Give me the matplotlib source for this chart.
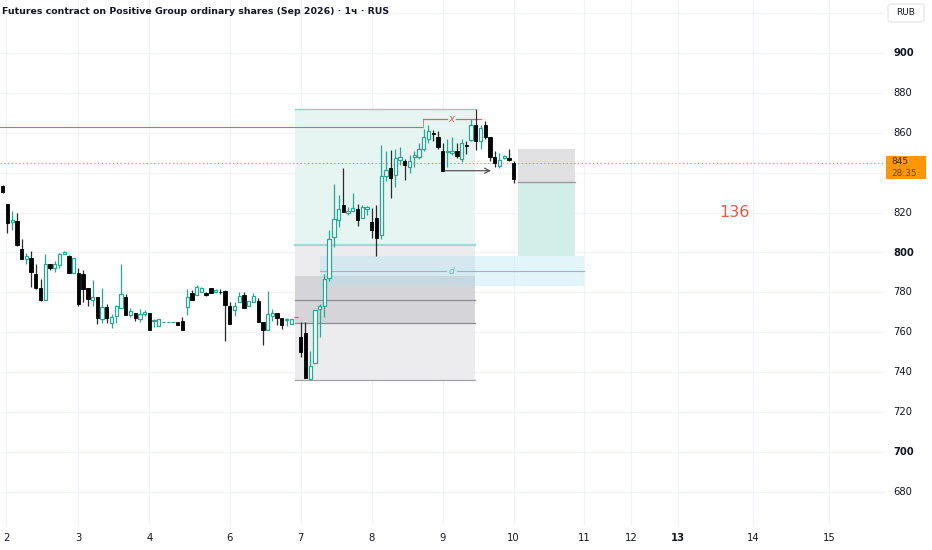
import matplotlib
matplotlib.use("Agg")
import matplotlib.pyplot as plt
from matplotlib.patches import Rectangle, FancyBboxPatch
import numpy as np

# ---------------- data ----------------
opens = [833.5, 824.5, 815.2, 816, 802, 796.5, 797, 789, 782, 776,
         794, 792, 793.5, 799, 798, 789.5, 789.8, 789, 782, 776,
         777.8, 766.5, 772.8, 764.7, 768, 772.3, 777.8, 768.5, 769.5, 766.5,
         769, 769.5, 765.5, 763.2, 765, 765, 765, 765, 765.7, 772.8,
         779.5, 778.7, 780, 779.5, 782, 780, 780.3, 780.7, 773.3, 771.2,
         775.3, 778.5, 773, 775.3, 775.7, 765.2, 761.2, 768, 769.5, 767.3,
         766, 764.3, 767.5, 757.5, 759.5, 736.8, 744.5, 771.5, 773.2, 787.2,
         807.8, 816.2, 824, 820, 821, 822, 817.3, 822, 815.3, 817.3,
         809, 838.2, 842.3, 839, 846.5, 846, 843, 848, 848, 852,
         857, 860, 858, 851, 850.5, 850, 851, 847, 853.8, 856.5,
         864, 856, 864, 858, 848, 843.2, 847.3, 847.3, 845]
closes = [830.5, 815, 816.5, 804, 796.8, 798, 790, 782, 776, 794,
          792, 794, 799, 800, 789.5, 797, 774, 781.5, 776.5, 777.5,
          767.3, 772.8, 767, 767.8, 773, 779, 768.7, 770.7, 767.3, 769.3,
          770, 761.2, 766.3, 766.5, 765, 765, 765, 763.5, 761.2, 777.8,
          776.2, 782.8, 782, 778.5, 779.5, 781, 780, 773.5, 764, 773.2,
          778.3, 772, 775.7, 778.3, 765.2, 761.2, 769, 769.5, 767.3, 763.7,
          766.8, 766.5, 767.8, 750.2, 737.3, 743.2, 771.2, 773, 786.8, 806.8,
          816.8, 821.8, 820.2, 820.7, 822.3, 816.2, 822.8, 822.8, 811.5, 807.3,
          838.3, 841.5, 837.3, 847.3, 848, 844, 845.7, 849, 852, 858,
          861, 859.5, 853, 841, 851, 851, 848.5, 855, 853.2, 864,
          856, 862.3, 858, 848, 845, 846.2, 848.5, 846.5, 837]
highs = [834, 824.5, 821, 820, 806.8, 799.5, 801, 794, 786.5, 799,
         794, 795.5, 799.5, 801, 798.5, 797, 792, 791, 782, 786,
         777.8, 782, 774, 769, 773.5, 794, 779, 772, 769.5, 771.5,
         771, 769.5, 766.8, 766.5, 765, 765, 765, 765, 767.8, 781.5,
         781, 783.5, 782.8, 780, 782, 781.5, 781.5, 781, 775, 775,
         780, 780, 775.7, 779.8, 777, 765.2, 780.7, 771.5, 769.5, 767.3,
         767, 766.5, 767.8, 765.2, 765, 750.7, 771.2, 774, 789, 811.5,
         834.5, 829, 842.3, 823, 829.7, 824.5, 824, 823.3, 822.3, 824,
         854, 851, 851.5, 852, 853, 847, 849, 851, 855, 862,
         864, 861.5, 860.7, 855, 857, 858, 855, 857, 856, 867,
         872, 864, 866, 858, 851, 850, 849, 852, 846]
lows = [830, 810, 811.5, 803.5, 796.5, 794, 782.5, 781.5, 775.5, 776,
        791, 790, 792, 799, 789.5, 789.5, 773, 775, 773, 773,
        764, 764.5, 764.5, 762, 764.5, 772.3, 768.7, 767.5, 765.7, 765,
        768, 761.2, 762.5, 763.2, 765, 765, 765, 763.5, 761.2, 768.5,
        776.2, 778.7, 780, 778, 779.5, 780, 779, 755.7, 764, 768,
        775.3, 772, 773, 775.3, 765.2, 753.5, 761.2, 765.5, 763.5, 761.5,
        763, 764.3, 767.5, 747.8, 737.3, 736.2, 744.5, 757.5, 767.5, 785.7,
        803, 812.8, 820.2, 819, 821, 813.3, 817.3, 819, 807.3, 798.2,
        807, 836, 827.3, 833, 844, 836.5, 840, 843, 847, 851,
        855, 856, 852, 841, 843, 849, 847.5, 845.5, 849.5, 856,
        851.5, 852, 857, 846, 843, 842.5, 847, 846, 835]

day_labels = ["2", "3", "4", "6", "7", "8", "9", "10", "11", "12", "13", "14", "15"]
day_pos = [0.8, 16, 31, 48, 63, 78, 93, 108, 122.9, 132.8, 142.8, 158.6, 174.7]
grid_prices = [680, 700, 720, 740, 760, 780, 800, 820, 840, 860, 880, 900, 920]
label_prices = [680, 700, 720, 740, 760, 780, 800, 820, 860, 880, 900]
last_price = 845
countdown = "28:35"
target_text = "136"

# ---------------- figure ----------------
W, H = 932, 550
fig = plt.figure(figsize=(W / 100, H / 100), dpi=100)
fig.patch.set_facecolor("white")
AX_W, AX_H = 885, 525
ax = fig.add_axes([0, 1 - AX_H / H, AX_W / W, AX_H / H])
ax.set_facecolor("white")

k = 4.731
x0px = 2.7
xmin = -x0px / k
xmax = (AX_W - x0px) / k
ppu = 1.995
ytop = 900 + 53 / ppu
ybot = 900 - (AX_H - 53) / ppu
ax.set_xlim(xmin, xmax)
ax.set_ylim(ybot, ytop)
for s in ax.spines.values():
    s.set_visible(False)
ax.set_xticks([])
ax.set_yticks([])

grid_c = "#f0f3fa"
for p in grid_prices:
    ax.axhline(p, color=grid_c, lw=0.9, zorder=0)
for d in day_pos:
    ax.axvline(d, color=grid_c, lw=0.9, zorder=0)

# ---------------- drawings ----------------
bx0, bx1 = 61.8, 99.8
# teal (profit) box
ax.add_patch(Rectangle((bx0, 803.8), bx1 - bx0, 872 - 803.8, facecolor="#e6f5f2", edgecolor="none", zorder=1))
ax.plot([bx0, bx1], [872, 872], color="#8fd3c7", lw=1.0, zorder=2)
ax.plot([bx0, bx1], [803.8, 803.8], color="#9edbd2", lw=1.6, zorder=2)
# gray zone
ax.add_patch(Rectangle((bx0, 736), bx1 - bx0, 803.8 - 736, facecolor="#ececee", edgecolor="none", zorder=1))
ax.add_patch(Rectangle((bx0, 764.5), bx1 - bx0, 788 - 764.5, facecolor="#d5d5d9", edgecolor="none", zorder=1))
ax.plot([bx0, bx1], [776, 776], color="#8c8c92", lw=0.9, zorder=2)
ax.plot([bx0, bx1], [764.5, 764.5], color="#8c8c92", lw=0.9, zorder=2)
ax.plot([bx0, bx1], [736, 736], color="#a3a3a8", lw=0.9, zorder=2)

# cyan band
cx0, cx1 = 67.1, 122.9
ax.add_patch(Rectangle((cx0, 783), cx1 - cx0, 798 - 783, facecolor="#a9e2f3", alpha=0.33, edgecolor="none", zorder=2))
ax.plot([cx0, 93.8], [790.5, 790.5], color="#74c9c4", lw=0.8, zorder=3)
ax.plot([96.0, cx1], [790.5, 790.5], color="#74c9c4", lw=0.8, zorder=3)
ax.text(94.9, 790.5, "d", color="#5bbdb5", fontsize=6.5, style="italic", ha="center", va="center", zorder=3)

# right boxes
rx0, rx1 = 108.9, 121.0
ax.add_patch(Rectangle((rx0, 835.2), rx1 - rx0, 851.7 - 835.2, facecolor="#e1e1e4", edgecolor="none", zorder=1))
ax.add_patch(Rectangle((rx0, 798), rx1 - rx0, 835.2 - 798, facecolor="#d3eee9", edgecolor="none", zorder=1))
ax.plot([rx0, rx1], [835.2, 835.2], color="#9a9aa0", lw=1.0, zorder=2)

# red level line
red = "#ef5a5f"
ax.plot([xmin, 88.8], [863, 863], color=red, lw=0.8, zorder=2)
ax.plot([88.8, 88.8], [863, 867], color="#a0a0a0", lw=0.8, zorder=2)
ax.plot([88.8, 93.9], [867, 867], color=red, lw=0.9, zorder=2)
ax.plot([95.9, 101], [867, 867], color=red, lw=0.9, zorder=2)
ax.text(94.9, 867, "x", color=red, fontsize=7.5, style="italic", ha="center", va="center", zorder=3)

# current price dotted line
ax.axhline(last_price, color="#ff9800", lw=0.9, ls=(0, (1, 2)), zorder=2)

# ---------------- candles ----------------
teal = "#22ab94"
xs = np.arange(len(opens))
bw = 0.7
for i in xs:
    o, c, h, l = opens[i], closes[i], highs[i], lows[i]
    up = c >= o
    wcol = teal if up else "#2a2a2a"
    ax.vlines(i, l, h, color=wcol, lw=0.9, zorder=4)
    lo, hi = min(o, c), max(o, c)
    hgt = max(hi - lo, 0.25)
    if up:
        ax.bar(i, hgt, bottom=lo, width=bw, facecolor="white", edgecolor=teal, linewidth=0.9, zorder=5)
    else:
        ax.bar(i, hgt, bottom=lo, width=bw, facecolor="#000000", edgecolor="#000000", linewidth=0.6, zorder=5)

# arrow
ax.annotate("", xy=(103.8, 841), xytext=(93, 841),
            arrowprops=dict(arrowstyle="->", color="#555555", lw=0.9, mutation_scale=9), zorder=6)

# target text
ax.text(154.6, 819.8, target_text, color="#e25a4c", fontsize=11.5, ha="center", va="center", zorder=6)

# ---------------- axis labels ----------------
def py(p):
    # price -> figure pixel y from top
    return 53 + (900 - p) * ppu

def fx(xpx):
    return xpx / W

def fy(ypx):
    return 1 - ypx / H

for p in label_prices:
    fig.text(fx(893), fy(py(p)), str(p), fontsize=7.2, color="#131722",
             ha="left", va="center", fontweight="bold" if p % 100 == 0 else "normal")

for lab, d in zip(day_labels, day_pos):
    xpx = x0px + d * k
    fig.text(fx(xpx), fy(538), lab, fontsize=7.2, color="#131722", ha="center", va="center",
             fontweight="bold" if lab == "13" else "normal")

# price label
fig.patches.append(Rectangle((fx(886), fy(179)), 40 / W, 23 / H, transform=fig.transFigure,
                             facecolor="#ff9800", edgecolor="none", figure=fig))
fig.text(fx(891), fy(161.5), str(last_price), fontsize=6.4, color="#2a2e39", ha="left", va="center")
fig.text(fx(891), fy(173.0), countdown, fontsize=6.4, color="#6b4400", ha="left", va="center")

# RUB box
fig.patches.append(FancyBboxPatch((fx(888), fy(22)), 36 / W, 18 / H, boxstyle="round,pad=0,rounding_size=0.004",
                                  transform=fig.transFigure, facecolor="white", edgecolor="#e0e3eb", lw=0.8, figure=fig))
fig.text(fx(906), fy(12.5), "RUB", fontsize=6.5, color="#131722", ha="center", va="center")

# title, scaled to fit the reference width
title = fig.text(fx(2), fy(12), "Futures contract on Positive Group ordinary shares (Sep 2026) · 1ч · RUS",
                 fontsize=8, fontweight="bold", color="#131722", ha="left", va="center")
fig.canvas.draw()
wpx = title.get_window_extent().width
title.set_fontsize(8 * 387 / wpx)

fig.savefig("out.png", dpi=100, facecolor="white")
